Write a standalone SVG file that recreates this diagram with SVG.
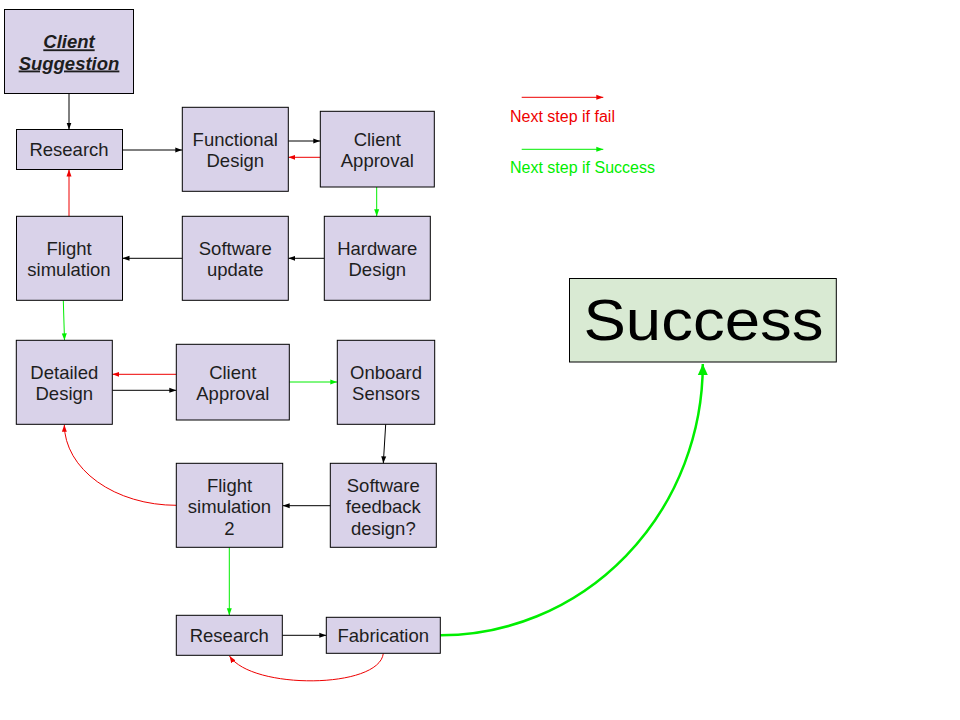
<svg xmlns="http://www.w3.org/2000/svg" width="960" height="720" viewBox="0 0 960 720">
<defs>
<style>
.node rect{fill:#d9d2e9;stroke:#000;stroke-width:1}
.node text{font-family:"Liberation Sans",Arial,sans-serif;font-size:18.5px;fill:#1e1e1e;text-anchor:middle}
.succ rect{fill:#d9ead3;stroke:#000;stroke-width:1}
.c{fill:none;stroke-width:1}
.k{stroke:#000}
.r{stroke:#ee0000}
.g{stroke:#00ee00}
.leg{font-family:"Liberation Sans",Arial,sans-serif;font-size:16px}
</style>
<marker id="ak" markerUnits="userSpaceOnUse" markerWidth="7" markerHeight="6" refX="7" refY="3" orient="auto"><path d="M0,0.5 L7,3 L0,5.5 z" fill="#000"/></marker>
<marker id="ar" markerUnits="userSpaceOnUse" markerWidth="7" markerHeight="6" refX="7" refY="3" orient="auto"><path d="M0,0.5 L7,3 L0,5.5 z" fill="#ee0000"/></marker>
<marker id="ag" markerUnits="userSpaceOnUse" markerWidth="7" markerHeight="6" refX="7" refY="3" orient="auto"><path d="M0,0.5 L7,3 L0,5.5 z" fill="#00ee00"/></marker>
<marker id="agb" markerUnits="userSpaceOnUse" markerWidth="12" markerHeight="12" refX="11" refY="6" orient="auto"><path d="M0,1 L11,6 L0,11 z" fill="#00ee00"/></marker>
</defs>
<rect width="960" height="720" fill="#fff"/>

<g id="connectors">
<line class="c k" x1="69" y1="93.5" x2="69" y2="129.5" marker-end="url(#ak)"/>
<line class="c k" x1="122.5" y1="150" x2="182.3" y2="150" marker-end="url(#ak)"/>
<line class="c k" x1="288.3" y1="141" x2="320.3" y2="141" marker-end="url(#ak)"/>
<line class="c r" x1="320.3" y1="157.3" x2="288.3" y2="157.3" marker-end="url(#ar)"/>
<line class="c g" x1="376.7" y1="187" x2="376.7" y2="216.3" marker-end="url(#ag)"/>
<line class="c k" x1="324.3" y1="258.3" x2="288.3" y2="258.3" marker-end="url(#ak)"/>
<line class="c k" x1="182.3" y1="258.3" x2="122.5" y2="258.3" marker-end="url(#ak)"/>
<line class="c r" x1="69" y1="216.3" x2="69" y2="169.5" marker-end="url(#ar)"/>
<line class="c g" x1="63.3" y1="300.3" x2="64.5" y2="340.3" marker-end="url(#ag)"/>
<line class="c r" x1="176.3" y1="374.3" x2="112.3" y2="374.3" marker-end="url(#ar)"/>
<line class="c k" x1="112.3" y1="390.3" x2="176.3" y2="390.3" marker-end="url(#ak)"/>
<line class="c g" x1="289.3" y1="382" x2="337.3" y2="382" marker-end="url(#ag)"/>
<line class="c k" x1="385.7" y1="424.3" x2="383.3" y2="463.3" marker-end="url(#ak)"/>
<line class="c k" x1="330.3" y1="505.7" x2="282.7" y2="505.7" marker-end="url(#ak)"/>
<path class="c r" d="M176.3,505.3 A112,81 0 0 1 64.3,424.8" marker-end="url(#ar)"/>
<line class="c g" x1="229.3" y1="547.3" x2="229.3" y2="615.3" marker-end="url(#ag)"/>
<line class="c k" x1="282.3" y1="635.3" x2="326.3" y2="635.3" marker-end="url(#ak)"/>
<path class="c r" d="M383.3,653.5 C379,689 252,690 229.5,656" marker-end="url(#ar)"/>
<path fill="none" stroke="#00ee00" stroke-width="2.5" d="M440.3,635.3 A262.5,271 0 0 0 702.8,364" marker-end="url(#agb)"/>
</g>

<g id="n-client-suggestion" class="node">
<rect x="4.5" y="9.5" width="129" height="84"/>
<text x="69" y="48.3" font-weight="bold" font-style="italic" text-decoration="underline">Client</text>
<text x="69" y="69.5" font-weight="bold" font-style="italic" text-decoration="underline">Suggestion</text>
</g>
<g id="n-research1" class="node">
<rect x="16.5" y="129.5" width="106" height="40"/>
<text x="69" y="156.3">Research</text>
</g>
<g id="n-functional-design" class="node">
<rect x="182.3" y="107.3" width="106" height="84"/>
<text x="235.3" y="145.7">Functional</text>
<text x="235.3" y="167.3">Design</text>
</g>
<g id="n-client-approval1" class="node">
<rect x="320.3" y="111.3" width="114" height="75.7"/>
<text x="377.3" y="145.5">Client</text>
<text x="377.3" y="167.1">Approval</text>
</g>
<g id="n-flight-simulation" class="node">
<rect x="16.5" y="216.3" width="106" height="84"/>
<text x="69" y="254.7">Flight</text>
<text x="69" y="276.3">simulation</text>
</g>
<g id="n-software-update" class="node">
<rect x="182.3" y="216.3" width="106" height="84"/>
<text x="235.3" y="254.7">Software</text>
<text x="235.3" y="276.3">update</text>
</g>
<g id="n-hardware-design" class="node">
<rect x="324.3" y="216.3" width="106" height="84"/>
<text x="377.3" y="254.7">Hardware</text>
<text x="377.3" y="276.3">Design</text>
</g>
<g id="n-detailed-design" class="node">
<rect x="16.3" y="340.3" width="96" height="84"/>
<text x="64.3" y="378.7">Detailed</text>
<text x="64.3" y="400.3">Design</text>
</g>
<g id="n-client-approval2" class="node">
<rect x="176.3" y="344.3" width="113" height="75.7"/>
<text x="232.8" y="378.5">Client</text>
<text x="232.8" y="400.1">Approval</text>
</g>
<g id="n-onboard-sensors" class="node">
<rect x="337.3" y="340.3" width="97.4" height="84"/>
<text x="386" y="378.7">Onboard</text>
<text x="386" y="400.3">Sensors</text>
</g>
<g id="n-flight-simulation2" class="node">
<rect x="176.3" y="463.3" width="106.4" height="84"/>
<text x="229.5" y="491.7">Flight</text>
<text x="229.5" y="513.3">simulation</text>
<text x="229.5" y="535">2</text>
</g>
<g id="n-software-feedback" class="node">
<rect x="330.3" y="463.3" width="106" height="84"/>
<text x="383.3" y="491.7">Software</text>
<text x="383.3" y="513.3">feedback</text>
<text x="383.3" y="535">design?</text>
</g>
<g id="n-research2" class="node">
<rect x="176.3" y="615.3" width="106" height="40"/>
<text x="229.3" y="642">Research</text>
</g>
<g id="n-fabrication" class="node">
<rect x="326.3" y="617.3" width="114" height="36"/>
<text x="383.3" y="642">Fabrication</text>
</g>
<g id="n-success" class="succ">
<rect x="569.5" y="278.5" width="266.8" height="83.5"/>
<text x="703.5" y="340" font-family="'Liberation Sans',Arial,sans-serif" font-size="58" fill="#000" text-anchor="middle" textLength="240" lengthAdjust="spacingAndGlyphs">Success</text>
</g>

<g id="legend">
<line class="c r" x1="521.7" y1="97.3" x2="603.3" y2="97.3" marker-end="url(#ar)"/>
<text class="leg" x="510" y="122.3" fill="#ee0000">Next step if fail</text>
<line class="c g" x1="521.7" y1="149.3" x2="603.3" y2="149.3" marker-end="url(#ag)"/>
<text class="leg" x="510" y="173.3" fill="#00ee00">Next step if Success</text>
</g>
</svg>
